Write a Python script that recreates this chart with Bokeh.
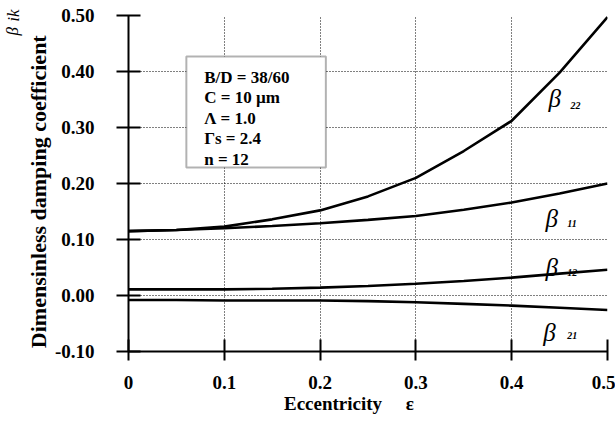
from bokeh.plotting import figure
from bokeh.models import Label, BoxAnnotation, FixedTicker, Range1d, LinearAxis
from bokeh.embed import file_html
from bokeh.resources import INLINE

# ---- data ----
ecc = [0.0, 0.05, 0.1, 0.15, 0.2, 0.25, 0.3, 0.35, 0.4, 0.45, 0.5]
beta22 = [0.115, 0.117, 0.123, 0.136, 0.152, 0.177, 0.210, 0.258, 0.312, 0.398, 0.497]
beta11 = [0.115, 0.117, 0.120, 0.124, 0.129, 0.135, 0.142, 0.153, 0.166, 0.182, 0.200]
beta12 = [0.011, 0.011, 0.011, 0.012, 0.014, 0.017, 0.021, 0.026, 0.032, 0.039, 0.046]
beta21 = [-0.008, -0.008, -0.009, -0.009, -0.009, -0.010, -0.012, -0.015, -0.018, -0.022, -0.026]
x_ticks = [0, 0.1, 0.2, 0.3, 0.4, 0.5]
x_tick_labels = {0: "0", 0.1: "0.1", 0.2: "0.2", 0.3: "0.3", 0.4: "0.4", 0.5: "0.5"}
y_ticks = [-0.1, 0.0, 0.1, 0.2, 0.3, 0.4, 0.5]
y_tick_labels = {-0.1: "-0.10", 0.0: "0.00", 0.1: "0.10", 0.2: "0.20", 0.3: "0.30", 0.4: "0.40", 0.5: "0.50"}
params = ["B/D = 38/60", "C = 10  \u00b5m", "\u039b = 1.0", "\u0393s = 2.4", "n = 12"]
sym_ticks = [0.472, 0.5]
sym_labels = {0.472: "\u03b2", 0.5: "ik"}

FONT = "Liberation Serif"
NB = "\u00a0"

p = figure(width=615, height=427, output_backend="svg", toolbar_location=None,
           x_range=Range1d(0, 0.5), y_range=Range1d(-0.1, 0.5),
           min_border_left=127, min_border_right=8, min_border_top=15, min_border_bottom=76)
p.outline_line_color = None
p.background_fill_color = "white"
p.border_fill_color = "white"

for ax, ticks, labels in ((p.xaxis[0], x_ticks, x_tick_labels), (p.yaxis[0], y_ticks, y_tick_labels)):
    ax.ticker = FixedTicker(ticks=ticks)
    ax.major_label_overrides = labels
    ax.axis_line_width = 2
    ax.axis_line_color = "black"
    ax.major_tick_line_width = 2
    ax.major_tick_line_color = "black"
    ax.minor_tick_line_color = None
    ax.major_label_text_font = FONT
    ax.major_label_text_font_style = "bold"
    ax.major_label_text_font_size = "19px"
    ax.major_label_text_color = "black"
    ax.axis_label_text_font = FONT
    ax.axis_label_text_font_style = "bold"
    ax.axis_label_text_color = "black"

p.xaxis.major_tick_in = 12
p.xaxis.major_tick_out = 9
p.xaxis.major_label_standoff = 15
p.yaxis.major_tick_in = 12
p.yaxis.major_tick_out = 12
p.yaxis.major_label_standoff = 22

p.yaxis.axis_label = "Dimensinless damping coefficient" + NB * 3
p.yaxis.axis_label_text_font_size = "22px"
p.yaxis.axis_label_standoff = 1
p.xaxis.axis_label = "Eccentricity" + NB * 5 + "\u03b5" + NB * 8
p.xaxis.axis_label_text_font_size = "19px"
p.xaxis.axis_label_standoff = 1

# extra left axis carrying the beta_ik symbol of the y title
sym_axis = LinearAxis(ticker=FixedTicker(ticks=sym_ticks), major_label_overrides=sym_labels,
                      axis_line_color=None, major_tick_line_color=None, minor_tick_line_color=None,
                      major_tick_in=0, major_tick_out=0, major_label_standoff=0,
                      major_label_orientation="vertical",
                      major_label_text_font=FONT, major_label_text_font_style="italic",
                      major_label_text_font_size="17px", major_label_text_color="black")
p.add_layout(sym_axis, "left")

p.grid.grid_line_color = "black"
p.grid.grid_line_dash = "1 2"
p.grid.grid_line_width = 1

for ys in (beta22, beta11, beta12, beta21):
    p.line(ecc, ys, line_color="black", line_width=2.6)

# parameter box
p.add_layout(BoxAnnotation(left=0.0604, right=0.206, bottom=0.2286, top=0.4268,
                           fill_color="white", fill_alpha=1, line_color="black", line_width=2))
for txt, yy in zip(params, [0.3893, 0.3527, 0.3161, 0.2795, 0.2429]):
    p.add_layout(Label(x=0.079, y=yy, text=txt, text_font=FONT, text_font_style="bold",
                       text_font_size="17px", text_baseline="alphabetic", text_color="black"))

# curve labels
curve_labels = [("22", 0.4385, 0.352, 0.4615, 0.339),
                ("11", 0.4354, 0.1375, 0.458, 0.1286),
                ("12", 0.4354, 0.050, 0.458, 0.041),
                ("21", 0.433, -0.066, 0.458, -0.0714)]
for sub, bx, by, sx, sy in curve_labels:
    p.add_layout(Label(x=bx, y=by, text="\u03b2", text_font=FONT, text_font_style="italic",
                       text_font_size="25px", text_baseline="alphabetic", text_color="black"))
    p.add_layout(Label(x=sx, y=sy, text=sub, text_font=FONT, text_font_style="bold italic",
                       text_font_size="10px", text_baseline="alphabetic", text_color="black"))

open("out.html", "w").write(file_html(p, INLINE))
